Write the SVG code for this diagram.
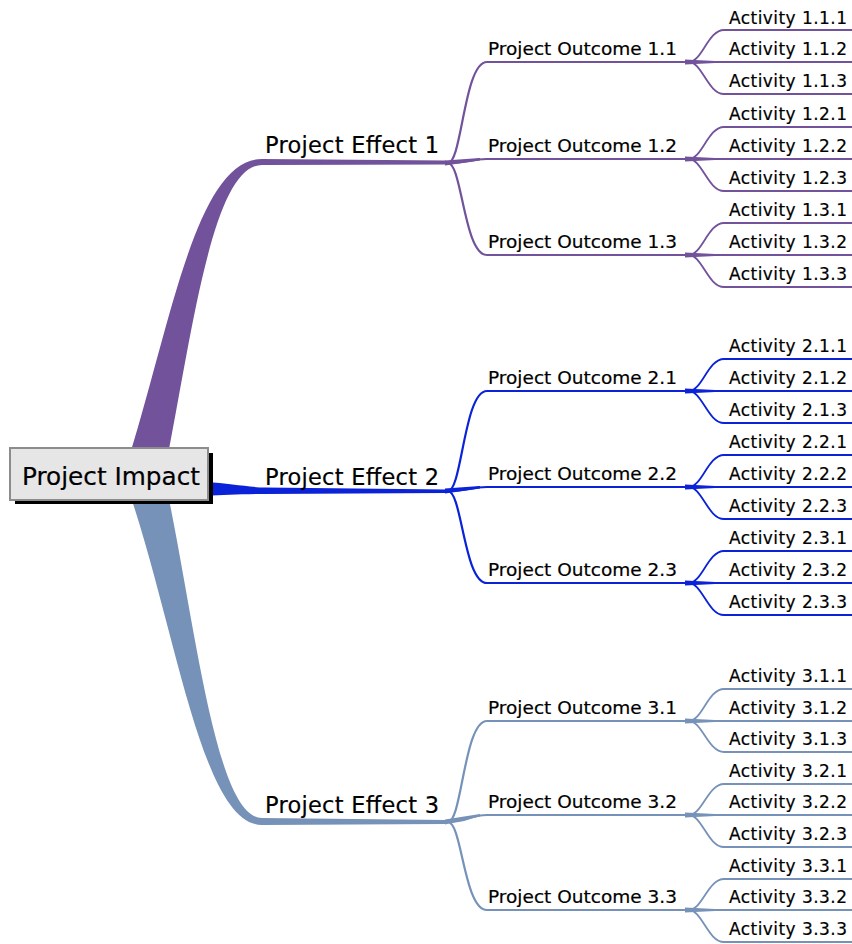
<svg xmlns="http://www.w3.org/2000/svg" width="852" height="944" viewBox="0 0 852 944">
<style>
.t{font-family:"DejaVu Sans","Liberation Sans",sans-serif;fill:#000;stroke:#000;stroke-width:0.2}
.root{font-size:25px}
.eff{font-size:22.5px}
.out{font-size:18.5px}
.act{font-size:17px}
.s1{stroke:#72529a;fill:none}
.s2{stroke:#0a22d8;fill:none}
.s3{stroke:#7692b8;fill:none}
.f1{fill:#72529a}
.f2{fill:#0a22d8}
.f3{fill:#7692b8}
.ol{stroke-width:2.2}
.al{stroke-width:1.8}
</style>
<rect width="852" height="944" fill="#fff"/>
<g id="connectors">
  <path class="f1" d="M125,470 C170,330 195,159 262,159 L446,160.5 L446,164.5 L262,165 C212,165 192,335 165,470 Z"/>
  <path class="f2" d="M205,482 C230,483 245,487 265,487.5 L446,489.5 L446,493 L265,494 C240,494 225,495.5 205,495.5 Z"/>
  <path class="f3" d="M125,480 C175,620 200,825 262,825 L446,824 L446,820 L262,818 C215,818 195,620 165,480 Z"/>

  <g class="s1 ol">
    <path d="M448,163 C462,163 464,62 487,62 L687,62"/>
    <path d="M448,163 C468,163 470,159 487,159 L687,159"/>
    <path d="M448,163 C462,163 464,255 487,255 L687,255"/>
  </g>
  <polygon class="f1" points="445,160.5 480,158 480,160.5 445,165.5"/>
  <g class="s1 al">
    <path d="M689,62 C702,62 708,30 724,30 L852,30"/><path d="M689,62 L852,62"/><path d="M689,62 C702,62 708,94 724,94 L852,94"/>
    <path d="M689,159 C702,159 708,127 724,127 L852,127"/><path d="M689,159 L852,159"/><path d="M689,159 C702,159 708,191 724,191 L852,191"/>
    <path d="M689,255 C702,255 708,223 724,223 L852,223"/><path d="M689,255 L852,255"/><path d="M689,255 C702,255 708,287 724,287 L852,287"/>
  </g>
  <polygon class="f1" points="685,59.5 715,61 715,63 685,64.5"/>
  <polygon class="f1" points="685,156.5 715,158 715,160 685,161.5"/>
  <polygon class="f1" points="685,252.5 715,254 715,256 685,257.5"/>

  <g class="s2 ol">
    <path d="M448,491 C462,491 464,391 487,391 L687,391"/>
    <path d="M448,491 C468,491 470,487 487,487 L687,487"/>
    <path d="M448,491 C462,491 464,583 487,583 L687,583"/>
  </g>
  <polygon class="f2" points="445,488.5 480,486 480,488.5 445,493.5"/>
  <g class="s2 al">
    <path d="M689,391 C702,391 708,359 724,359 L852,359"/><path d="M689,391 L852,391"/><path d="M689,391 C702,391 708,423 724,423 L852,423"/>
    <path d="M689,487 C702,487 708,455 724,455 L852,455"/><path d="M689,487 L852,487"/><path d="M689,487 C702,487 708,519 724,519 L852,519"/>
    <path d="M689,583 C702,583 708,551 724,551 L852,551"/><path d="M689,583 L852,583"/><path d="M689,583 C702,583 708,615 724,615 L852,615"/>
  </g>
  <polygon class="f2" points="685,388.5 715,390 715,392 685,393.5"/>
  <polygon class="f2" points="685,484.5 715,486 715,488 685,489.5"/>
  <polygon class="f2" points="685,580.5 715,582 715,584 685,585.5"/>

  <g class="s3 ol">
    <path d="M448,822 C462,822 464,721 487,721 L687,721"/>
    <path d="M448,822 C468,822 470,815 487,815 L687,815"/>
    <path d="M448,822 C462,822 464,910 487,910 L687,910"/>
  </g>
  <polygon class="f3" points="445,819.5 480,814 480,816.5 445,824.5"/>
  <g class="s3 al">
    <path d="M689,721 C702,721 708,689 724,689 L852,689"/><path d="M689,721 L852,721"/><path d="M689,721 C702,721 708,752 724,752 L852,752"/>
    <path d="M689,815 C702,815 708,784 724,784 L852,784"/><path d="M689,815 L852,815"/><path d="M689,815 C702,815 708,847 724,847 L852,847"/>
    <path d="M689,910 C702,910 708,879 724,879 L852,879"/><path d="M689,910 L852,910"/><path d="M689,910 C702,910 708,942 724,942 L852,942"/>
  </g>
  <polygon class="f3" points="685,718.5 715,720 715,722 685,723.5"/>
  <polygon class="f3" points="685,812.5 715,814 715,816 685,817.5"/>
  <polygon class="f3" points="685,907.5 715,909 715,911 685,912.5"/>
</g>

<g id="root">
  <rect x="15" y="453" width="198" height="51" fill="#000"/>
  <rect x="10" y="448" width="198" height="52" fill="#e6e6e6" stroke="#8c8c8c" stroke-width="2"/>
  <text class="t root" x="22" y="485" textLength="178" lengthAdjust="spacingAndGlyphs">Project Impact</text>
</g>

<g id="effect1"><text class="t eff" x="265" y="153" textLength="174">Project Effect 1</text></g>
<g id="effect2"><text class="t eff" x="265" y="485" textLength="174">Project Effect 2</text></g>
<g id="effect3"><text class="t eff" x="265" y="813" textLength="174">Project Effect 3</text></g>

<g id="outcome1-1"><text class="t out" x="488" y="55" textLength="189">Project Outcome 1.1</text></g>
<g id="outcome1-2"><text class="t out" x="488" y="152" textLength="189">Project Outcome 1.2</text></g>
<g id="outcome1-3"><text class="t out" x="488" y="248" textLength="189">Project Outcome 1.3</text></g>
<g id="outcome2-1"><text class="t out" x="488" y="384" textLength="189">Project Outcome 2.1</text></g>
<g id="outcome2-2"><text class="t out" x="488" y="480" textLength="189">Project Outcome 2.2</text></g>
<g id="outcome2-3"><text class="t out" x="488" y="576" textLength="189">Project Outcome 2.3</text></g>
<g id="outcome3-1"><text class="t out" x="488" y="714" textLength="189">Project Outcome 3.1</text></g>
<g id="outcome3-2"><text class="t out" x="488" y="808" textLength="189">Project Outcome 3.2</text></g>
<g id="outcome3-3"><text class="t out" x="488" y="903" textLength="189">Project Outcome 3.3</text></g>

<g id="activity1-1-1"><text class="t act" x="729" y="24" textLength="118">Activity 1.1.1</text></g>
<g id="activity1-1-2"><text class="t act" x="729" y="55" textLength="118">Activity 1.1.2</text></g>
<g id="activity1-1-3"><text class="t act" x="729" y="87" textLength="118">Activity 1.1.3</text></g>
<g id="activity1-2-1"><text class="t act" x="729" y="120" textLength="118">Activity 1.2.1</text></g>
<g id="activity1-2-2"><text class="t act" x="729" y="152" textLength="118">Activity 1.2.2</text></g>
<g id="activity1-2-3"><text class="t act" x="729" y="184" textLength="118">Activity 1.2.3</text></g>
<g id="activity1-3-1"><text class="t act" x="729" y="216" textLength="118">Activity 1.3.1</text></g>
<g id="activity1-3-2"><text class="t act" x="729" y="248" textLength="118">Activity 1.3.2</text></g>
<g id="activity1-3-3"><text class="t act" x="729" y="280" textLength="118">Activity 1.3.3</text></g>

<g id="activity2-1-1"><text class="t act" x="729" y="352" textLength="118">Activity 2.1.1</text></g>
<g id="activity2-1-2"><text class="t act" x="729" y="384" textLength="118">Activity 2.1.2</text></g>
<g id="activity2-1-3"><text class="t act" x="729" y="416" textLength="118">Activity 2.1.3</text></g>
<g id="activity2-2-1"><text class="t act" x="729" y="448" textLength="118">Activity 2.2.1</text></g>
<g id="activity2-2-2"><text class="t act" x="729" y="480" textLength="118">Activity 2.2.2</text></g>
<g id="activity2-2-3"><text class="t act" x="729" y="512" textLength="118">Activity 2.2.3</text></g>
<g id="activity2-3-1"><text class="t act" x="729" y="544" textLength="118">Activity 2.3.1</text></g>
<g id="activity2-3-2"><text class="t act" x="729" y="576" textLength="118">Activity 2.3.2</text></g>
<g id="activity2-3-3"><text class="t act" x="729" y="608" textLength="118">Activity 2.3.3</text></g>

<g id="activity3-1-1"><text class="t act" x="729" y="682" textLength="118">Activity 3.1.1</text></g>
<g id="activity3-1-2"><text class="t act" x="729" y="714" textLength="118">Activity 3.1.2</text></g>
<g id="activity3-1-3"><text class="t act" x="729" y="745" textLength="118">Activity 3.1.3</text></g>
<g id="activity3-2-1"><text class="t act" x="729" y="777" textLength="118">Activity 3.2.1</text></g>
<g id="activity3-2-2"><text class="t act" x="729" y="808" textLength="118">Activity 3.2.2</text></g>
<g id="activity3-2-3"><text class="t act" x="729" y="840" textLength="118">Activity 3.2.3</text></g>
<g id="activity3-3-1"><text class="t act" x="729" y="872" textLength="118">Activity 3.3.1</text></g>
<g id="activity3-3-2"><text class="t act" x="729" y="903" textLength="118">Activity 3.3.2</text></g>
<g id="activity3-3-3"><text class="t act" x="729" y="935" textLength="118">Activity 3.3.3</text></g>
</svg>
